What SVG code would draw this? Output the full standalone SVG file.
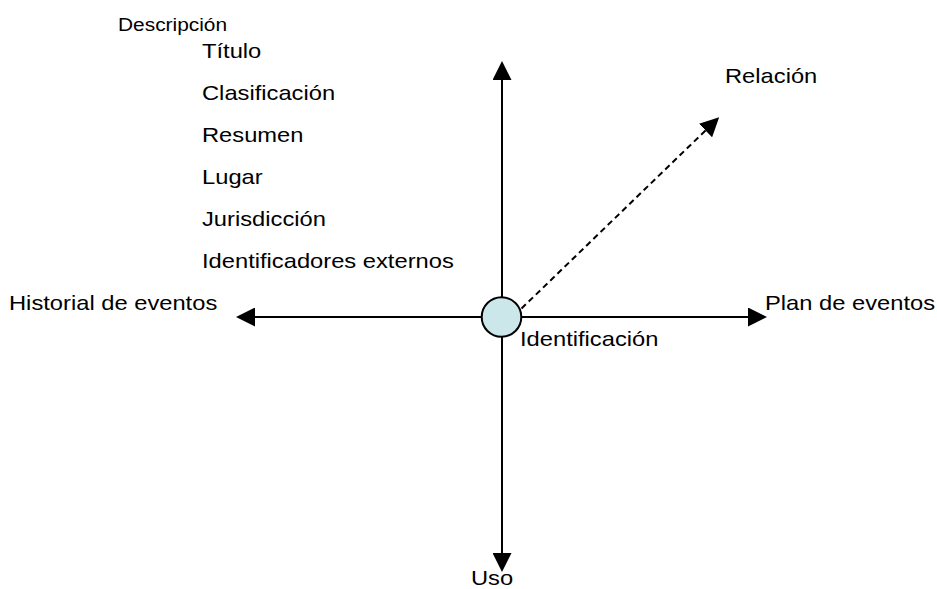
<svg xmlns="http://www.w3.org/2000/svg" width="937" height="589" viewBox="0 0 937 589">
  <style>
    text { font-family: "Liberation Sans", Arial, sans-serif; fill: #000; }
    .item { font-size: 21px; }
    .small { font-size: 18.5px; }
    .label { font-size: 21px; }
    .axis { stroke: #000; stroke-width: 2; fill: none; }
    .dash { stroke: #000; stroke-width: 2; fill: none; stroke-dasharray: 6 4; }
  </style>
  <defs>
    <marker id="head" markerUnits="userSpaceOnUse" markerWidth="19" markerHeight="19" refX="0" refY="9.5" orient="auto" viewBox="0 0 19 19">
      <path d="M0,0 L19,9.5 L0,19 z" fill="#000"/>
    </marker>
  </defs>

  <rect width="937" height="589" fill="#fff"/>

  <!-- axes and relation link -->
  <g id="connectors">
    <line class="axis" x1="502" y1="317" x2="502" y2="80" marker-end="url(#head)"/>
    <line class="axis" x1="502" y1="317" x2="502" y2="553" marker-end="url(#head)"/>
    <line class="axis" x1="502" y1="317" x2="255" y2="317" marker-end="url(#head)"/>
    <line class="axis" x1="502" y1="317" x2="748" y2="317" marker-end="url(#head)"/>
    <line class="dash" x1="521.5" y1="308.5" x2="705.5" y2="130.5" marker-end="url(#head)"/>
  </g>

  <!-- central node -->
  <g id="identificacion">
    <circle cx="501.5" cy="317" r="19.8" fill="#cbe7ea" stroke="#000" stroke-width="2"/>
    <text class="label" transform="translate(520 346) scale(1.13 1)">Identificación</text>
  </g>

  <g id="descripcion">
    <text class="small" transform="translate(118 30.7) scale(1.13 1)">Descripción</text>
    <text class="item" transform="translate(202 58.3) scale(1.13 1)">Título</text>
    <text class="item" transform="translate(202 100.2) scale(1.13 1)">Clasificación</text>
    <text class="item" transform="translate(202 142) scale(1.13 1)">Resumen</text>
    <text class="item" transform="translate(202 184) scale(1.13 1)">Lugar</text>
    <text class="item" transform="translate(202 225.8) scale(1.13 1)">Jurisdicción</text>
    <text class="item" transform="translate(202 268) scale(1.13 1)">Identificadores externos</text>
  </g>

  <g id="relacion">
    <text class="label" transform="translate(725 82.5) scale(1.13 1)">Relación</text>
  </g>

  <g id="historial">
    <text class="label" transform="translate(9 309.5) scale(1.13 1)">Historial de eventos</text>
  </g>

  <g id="plan">
    <text class="label" transform="translate(765 310) scale(1.13 1)">Plan de eventos</text>
  </g>

  <g id="uso">
    <text class="label" transform="translate(471 584.5) scale(1.13 1)">Uso</text>
  </g>
</svg>
